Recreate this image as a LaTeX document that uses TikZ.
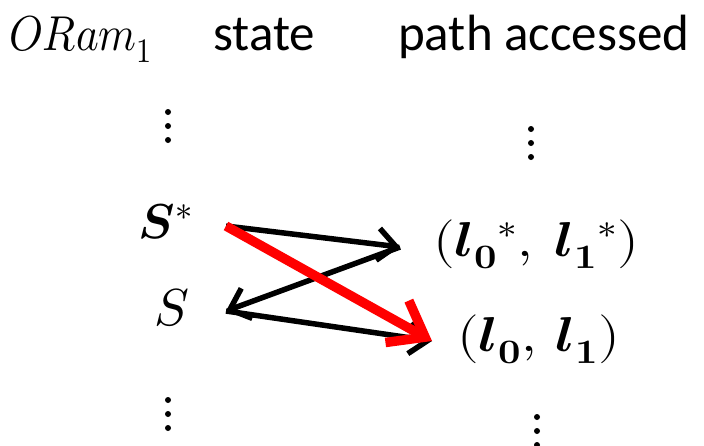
\documentclass[tikz,border=0pt]{standalone}
\usepackage{fontspec}
\usepackage{unicode-math}
\setmainfont{Carlito}
\setmathfont{Latin Modern Math}
\usetikzlibrary{arrows.meta}
\begin{document}
\begin{tikzpicture}[x=1pt,y=-1pt,
  lbl/.style={inner sep=0pt,font=\fontsize{51}{55}\selectfont},
  mlbl/.style={inner sep=0pt,font=\fontsize{49}{55}\selectfont},
  dotc/.style={fill=black,draw=none},
  blk/.style={draw=black,line width=5.5pt,-{Straight Barb[length=18pt,width=32pt,line width=5.5pt]}},
  redarr/.style={draw=red,line width=9.5pt,-{Straight Barb[length=32pt,width=48pt,line width=9.5pt]}}]
\useasboundingbox (0,0) rectangle (704,445);
% headers
\node[mlbl,anchor=base west] (oram) at (9,50) {\scalebox{0.88}[1]{$ORam_1$}};
\node[lbl,anchor=base west] (state) at (213,50) {state};
\node[lbl,anchor=base west] (path) at (398,50) {path accessed};
% vertical dots
\foreach \n/\x/\y in {a/168/112,b/168/126,c/168/140,d/531/129,e/531/143,f/531/157,g/168/400,h/168/414,i/168/428,j/537/417,k/537/431,l/537/445}
  \node[dotc,circle,minimum size=6pt,inner sep=0pt] (dot\n) at (\x,\y) {};
% states
\node[mlbl,anchor=base east] (sstar) at (193,238) {$\symbfit{S}^{*}$};
\node[mlbl,anchor=base east] (s) at (190,325) {\fontsize{52}{55}\selectfont$S$};
% paths
\node[mlbl,anchor=base west] (lstar) at (433,256) {\scalebox{1.14}[1]{$(\symbfit{l}_{\symbf{0}}{}^{*},\ \symbfit{l}_{\symbf{1}}{}^{*})$}};
\node[mlbl,anchor=base west] (l) at (457,351) {\scalebox{1.14}[1]{$(\symbfit{l}_{\symbf{0}},\,\symbfit{l}_{\symbf{1}})$}};
% connector end points
\coordinate (a1) at (226,226);
\coordinate (a2) at (400,247);
\coordinate (b1) at (226,311);
\coordinate (b2) at (432,341);
\draw[blk] (a1) -- (a2);
\draw[blk] (a2) -- (b1);
\draw[blk] (b1) -- (b2);
\draw[redarr] (a1) -- (b2);
\end{tikzpicture}
\end{document}
